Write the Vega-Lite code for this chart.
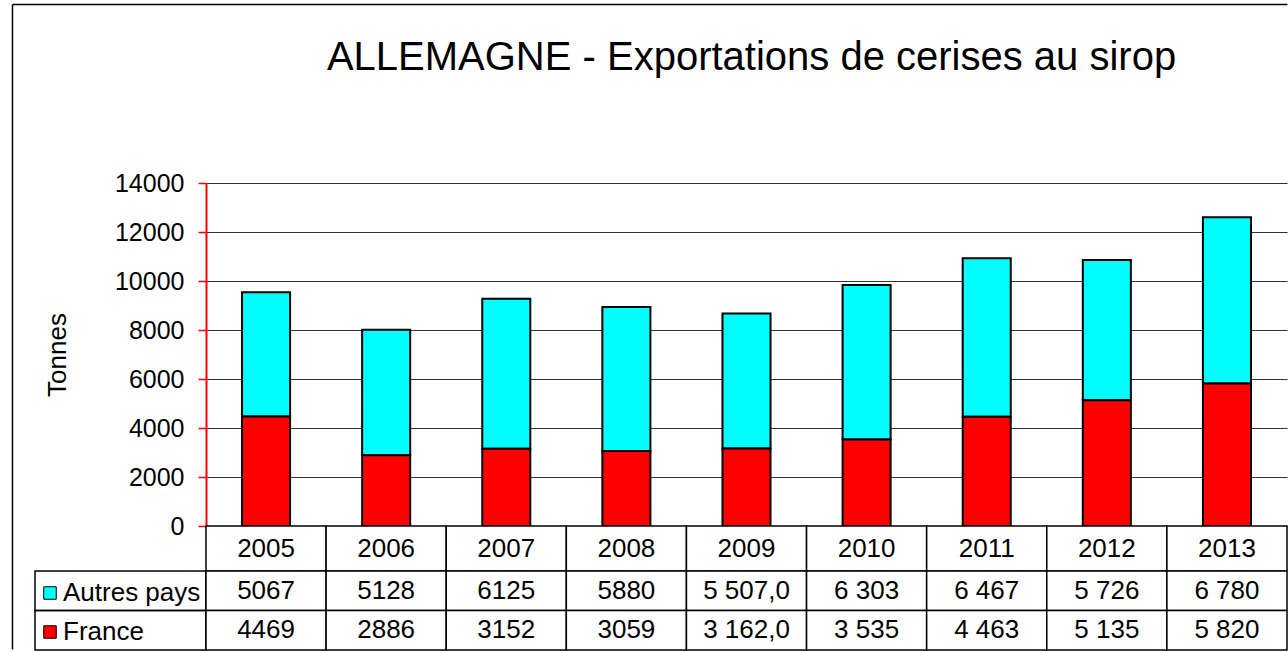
{
  "$schema": "https://vega.github.io/schema/vega-lite/v6.json",
  "padding": {"left": 12, "top": 4, "right": 0, "bottom": 0},
  "background": "white",
  "config": {
    "font": "Liberation Sans",
    "view": {"stroke": null},
    "text": {"font": "Liberation Sans", "fontSize": 26, "color": "black"}
  },
  "datasets": {
    "exports": [
      {"year": "2005", "series": "Autres pays", "value": 5067, "label": "5067"},
      {"year": "2006", "series": "Autres pays", "value": 5128, "label": "5128"},
      {"year": "2007", "series": "Autres pays", "value": 6125, "label": "6125"},
      {"year": "2008", "series": "Autres pays", "value": 5880, "label": "5880"},
      {"year": "2009", "series": "Autres pays", "value": 5507, "label": "5 507,0"},
      {"year": "2010", "series": "Autres pays", "value": 6303, "label": "6 303"},
      {"year": "2011", "series": "Autres pays", "value": 6467, "label": "6 467"},
      {"year": "2012", "series": "Autres pays", "value": 5726, "label": "5 726"},
      {"year": "2013", "series": "Autres pays", "value": 6780, "label": "6 780"},
      {"year": "2005", "series": "France", "value": 4469, "label": "4469"},
      {"year": "2006", "series": "France", "value": 2886, "label": "2886"},
      {"year": "2007", "series": "France", "value": 3152, "label": "3152"},
      {"year": "2008", "series": "France", "value": 3059, "label": "3059"},
      {"year": "2009", "series": "France", "value": 3162, "label": "3 162,0"},
      {"year": "2010", "series": "France", "value": 3535, "label": "3 535"},
      {"year": "2011", "series": "France", "value": 4463, "label": "4 463"},
      {"year": "2012", "series": "France", "value": 5135, "label": "5 135"},
      {"year": "2013", "series": "France", "value": 5820, "label": "5 820"}
    ]
  },
  "columns": 2,
  "spacing": 0,
  "bounds": "flush",
  "resolve": {"scale": {"color": "independent"}, "legend": {"color": "independent"}},
  "concat": [
    {
      "width": 171, "height": 343,
      "data": {"values": []},
      "mark": "point",
      "encoding": {
        "x": {"datum": 0, "type": "quantitative",
              "scale": {"domain": [0, 1], "range": [-23, 1252], "zero": false, "nice": false},
              "axis": {"orient": "top", "offset": 179, "domain": true, "domainColor": "black", "domainWidth": 1.5,
                       "ticks": false, "labels": false, "grid": false, "title": null}},
        "y": {"datum": 0, "type": "quantitative",
              "scale": {"domain": [0, 1], "range": [466, -179], "zero": false, "nice": false},
              "axis": {"orient": "left", "offset": 23, "domain": true, "domainColor": "black", "domainWidth": 1.5,
                       "ticks": false, "labels": false, "grid": false, "title": null}}
      }
    },
    {
      "width": 1081, "height": 343,
      "data": {"name": "exports"},
      "title": {
        "text": "ALLEMAGNE - Exportations de cerises au sirop",
        "fontSize": 40, "font": "Liberation Sans", "fontWeight": "normal",
        "color": "black", "anchor": "middle", "frame": "group", "offset": 93, "dx": 5
      },
      "mark": {"type": "bar", "stroke": "black", "strokeWidth": 2},
      "encoding": {
        "x": {"field": "year", "type": "ordinal", "scale": {"paddingInner": 0.6, "paddingOuter": 0.3}, "axis": null},
        "y": {
          "field": "value", "type": "quantitative", "stack": "zero",
          "scale": {"domain": [0, 14000]},
          "axis": {
            "title": "Tonnes",
            "values": [0, 2000, 4000, 6000, 8000, 10000, 12000, 14000],
            "format": "d",
            "labelFontSize": 25, "labelFont": "Liberation Sans", "labelColor": "black",
            "labelPadding": 14, "labelFlush": false,
            "tickSize": 8, "tickColor": "red", "tickWidth": 1.5,
            "domainColor": "red", "domainWidth": 2,
            "grid": true, "gridColor": "#333333", "gridWidth": 1,
            "titleFontSize": 26, "titleFont": "Liberation Sans", "titleFontWeight": "normal",
            "titleColor": "black", "titlePadding": 44
          }
        },
        "color": {
          "field": "series", "type": "nominal",
          "scale": {"domain": ["Autres pays", "France"], "range": ["#00FFFF", "#FF0000"]},
          "legend": {
            "title": null, "orient": "none", "legendX": -169, "legendY": 397,
            "direction": "vertical",
            "symbolType": "square", "symbolSize": 156,
            "symbolStrokeColor": "black", "symbolStrokeWidth": 1, "symbolOpacity": 1,
            "labelFontSize": 26, "labelFont": "Liberation Sans", "labelColor": "black",
            "labelOffset": 0, "rowPadding": 13, "padding": 0
          }
        },
        "order": {"field": "series", "sort": "descending"}
      }
    },
    {
      "width": 171, "height": 45,
      "data": {"values": []},
      "mark": "rect",
      "encoding": {}
    },
    {
      "width": 1081, "height": 45,
      "data": {"name": "exports"},
      "transform": [{"filter": "datum.series == 'France'"}],
      "layer": [
        {
          "mark": {"type": "rect", "fill": "white", "stroke": "black", "strokeWidth": 1.5},
          "encoding": {
            "x": {"field": "year", "type": "ordinal", "axis": null, "scale": {"paddingInner": 0, "paddingOuter": 0}}
          }
        },
        {
          "mark": {"type": "text", "fontSize": 26, "font": "Liberation Sans", "color": "black"},
          "encoding": {
            "x": {"field": "year", "type": "ordinal"},
            "text": {"field": "year"}
          }
        }
      ]
    },
    {
      "width": 171, "height": 79,
      "data": {"name": "exports"},
      "transform": [{"filter": "datum.year == '2005'"}],
      "mark": {"type": "rect", "fill": "transparent", "stroke": "black", "strokeWidth": 1.5},
      "encoding": {
        "y": {"field": "series", "type": "nominal", "axis": null,
              "scale": {"domain": ["Autres pays", "France"], "paddingInner": 0, "paddingOuter": 0}}
      }
    },
    {
      "width": 1081, "height": 79,
      "data": {"name": "exports"},
      "layer": [
        {
          "mark": {"type": "rect", "fill": "white", "stroke": "black", "strokeWidth": 1.5},
          "encoding": {
            "x": {"field": "year", "type": "ordinal", "axis": null, "scale": {"paddingInner": 0, "paddingOuter": 0}},
            "y": {"field": "series", "type": "nominal", "axis": null,
                  "scale": {"domain": ["Autres pays", "France"], "paddingInner": 0, "paddingOuter": 0}}
          }
        },
        {
          "mark": {"type": "text", "fontSize": 26, "font": "Liberation Sans", "color": "black"},
          "encoding": {
            "x": {"field": "year", "type": "ordinal"},
            "y": {"field": "series", "type": "nominal"},
            "text": {"field": "label"}
          }
        }
      ]
    }
  ]
}
